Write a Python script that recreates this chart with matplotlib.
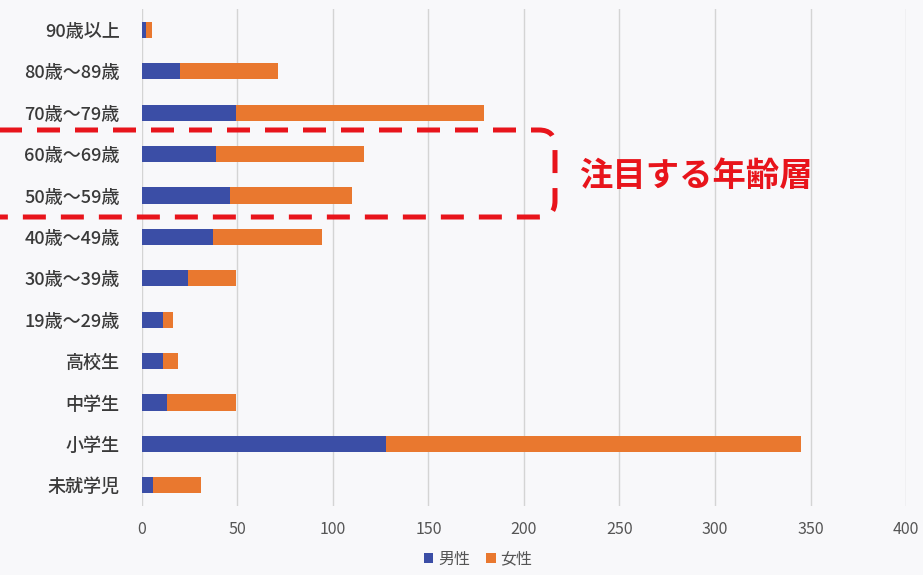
import matplotlib
matplotlib.use("Agg")
import numpy as np
import matplotlib.pyplot as plt
from matplotlib.path import Path
from matplotlib.patches import PathPatch
from matplotlib.transforms import Affine2D

plt.rcParams['font.family'] = ['Noto Sans CJK JP', 'DejaVu Sans']

# データ（上から順）
groups = ["90歳以上", "80歳～89歳", "70歳～79歳", "60歳～69歳", "50歳～59歳",
          "40歳～49歳", "30歳～39歳", "19歳～29歳", "高校生", "中学生",
          "小学生", "未就学児"]
male = [2, 20, 49, 39, 46, 37, 24, 11, 11, 13, 128, 6]
female = [3, 51, 130, 77, 64, 57, 25, 5, 8, 36, 217, 25]
xticks = [0, 50, 100, 150, 200, 250, 300, 350, 400]

blue = "#3b4ea6"
orange = "#e9782f"

fig = plt.figure(figsize=(9.23, 5.75), dpi=100)
fig.patch.set_facecolor("#f8f8fa")
ax = fig.add_axes([0.1538, 0.12, 0.8278, 0.864])
ax.set_facecolor("#f8f8fa")

y = np.arange(len(groups))
ax.barh(y, male, height=0.39, color=blue, label="男性", zorder=3)
ax.barh(y, female, left=male, height=0.39, color=orange, label="女性", zorder=3)

ax.set_ylim(len(groups) - 0.5, -0.5)
ax.set_yticks(y)
ax.set_yticklabels(groups, fontsize=13, color="#3a3a3a", fontweight="medium")
ax.set_xlim(0, 400)
ax.set_xticks(xticks)
ax.set_xticklabels([str(v) for v in xticks], fontsize=11.5, color="#555555")
ax.tick_params(axis="y", length=0, pad=16)
ax.tick_params(axis="x", length=0, pad=11)
ax.grid(axis="x", color="#d4d4d4", linewidth=1, zorder=0)
for s in ax.spines.values():
    s.set_visible(False)

fig.legend(loc="lower center", ncol=2, frameon=False, fontsize=11.5,
           handlelength=0.6, handleheight=0.6, handletextpad=0.3,
           columnspacing=1.0, bbox_to_anchor=(0.518, -0.012),
           labelcolor="#555555")

# 注目する年齢層の枠（ピクセル座標、上から）
W, H = 923, 575
px = Affine2D().scale(1, -1).translate(0, H).scale(1 / W, 1 / H) + fig.transFigure
x0, x1, top, bot, r = -20, 555, 130, 217, 16
verts = [(x0, top), (x1 - r, top), (x1, top), (x1, top + r),
         (x1, bot - r), (x1, bot), (x1 - r, bot), (x0, bot)]
codes = [Path.MOVETO, Path.LINETO, Path.CURVE3, Path.CURVE3,
         Path.LINETO, Path.CURVE3, Path.CURVE3, Path.LINETO]
frame = PathPatch(Path(verts, codes), transform=px, fill=False,
                  edgecolor="#e8141b", linewidth=3.6,
                  linestyle=(0, (4.6, 3.0)), capstyle="butt")
fig.patches.append(frame)
fig.text(579 / W, 1 - 176 / H, "注目する年齢層", color="#e8141b",
         fontsize=24, fontweight="bold", va="center", ha="left")

fig.savefig("out.png", dpi=100, facecolor=fig.get_facecolor())
